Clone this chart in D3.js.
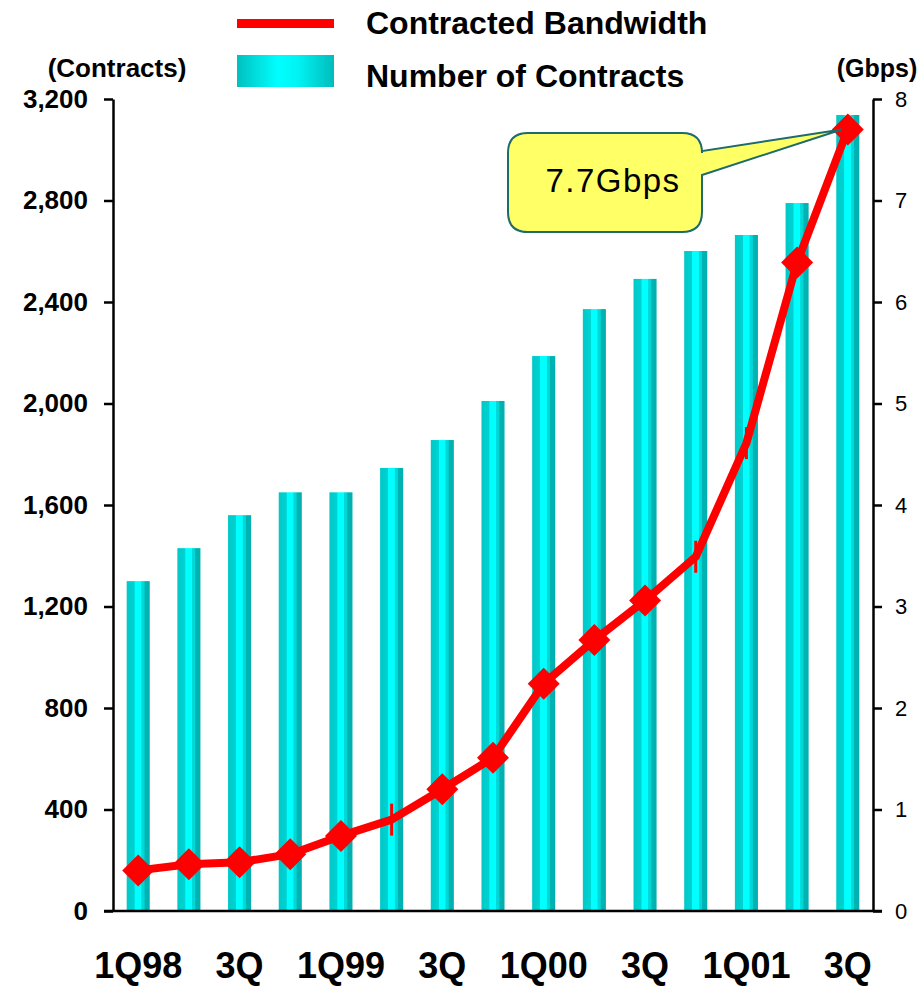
<!DOCTYPE html>
<html lang="en">
<head>
  <meta charset="UTF-8">
  <title>Contracts and Contracted Bandwidth</title>
  <style>
    body { margin: 0; background: #fff; }
    svg text { font-family: "Liberation Sans", Arial, sans-serif; fill: #000; }
    .axis path, .axis line { stroke: #000; stroke-width: 2.5; }
    .left-axis text { font-weight: bold; font-size: 26px; }
    .right-axis text { font-size: 22px; }
    .x-axis text { font-weight: bold; font-size: 36px; }
  </style>
</head>
<body>
  <svg id="chart" width="924" height="987"></svg>

  <script src="https://d3js.org/d3.v7.min.js"></script>
  <script>
    // quarters, 1Q98 .. 3Q01
    const quarters = ["1Q98", "2Q98", "3Q98", "4Q98", "1Q99", "2Q99", "3Q99", "4Q99",
                      "1Q00", "2Q00", "3Q00", "4Q00", "1Q01", "2Q01", "3Q01"];
    const quarterLabels = ["1Q98", "", "3Q", "", "1Q99", "", "3Q", "",
                           "1Q00", "", "3Q", "", "1Q01", "", "3Q"];
    // number of contracts (left axis)
    const contracts = [1300, 1430, 1560, 1650, 1650, 1746, 1856, 2010,
                       2187, 2372, 2491, 2601, 2664, 2790, 3137];
    // contracted bandwidth in Gbps (right axis)
    const bandwidth = [0.40, 0.46, 0.48, 0.56, 0.74, 0.90, 1.20, 1.51,
                       2.24, 2.67, 3.06, 3.49, 4.61, 6.39, 7.70];
    // points drawn with a diamond marker (others get a small bar)
    const diamondMarker = [true, true, true, true, true, false, true, true,
                           true, true, true, false, false, true, true];
    const leftTicks = [0, 400, 800, 1200, 1600, 2000, 2400, 2800, 3200];
    const rightTicks = [0, 1, 2, 3, 4, 5, 6, 7, 8];
    const calloutText = "7.7Gbps";

    const plotLeft = 113, plotRight = 873, plotTop = 99, plotBottom = 911;

    const svg = d3.select("#chart");

    const defs = svg.append("defs");
    const barGrad = defs.append("linearGradient").attr("id", "barGrad");
    [[0, "#00c8c8"], [0.33, "#00d2d2"], [0.36, "#00ffff"], [0.62, "#00ffff"],
     [0.65, "#00dada"], [0.76, "#00d6d6"], [0.79, "#00b4b4"], [1, "#00b0b0"]]
      .forEach(s => barGrad.append("stop").attr("offset", s[0]).attr("stop-color", s[1]));
    const legGrad = defs.append("linearGradient").attr("id", "legGrad");
    [[0, "#00c0c0"], [0.42, "#00ffff"], [0.62, "#00f4f4"], [1, "#00bcbc"]]
      .forEach(s => legGrad.append("stop").attr("offset", s[0]).attr("stop-color", s[1]));

    const x = d3.scaleBand()
      .domain(quarters)
      .range([plotLeft, plotRight])
      .paddingInner(0.545)
      .paddingOuter(0.27);

    const yLeft = d3.scaleLinear().domain([0, 3200]).range([plotBottom, plotTop]);
    const yRight = d3.scaleLinear().domain([0, 8]).range([plotBottom, plotTop]);

    // bars
    svg.append("g").selectAll("rect")
      .data(quarters)
      .enter()
      .append("rect")
      .attr("x", d => x(d))
      .attr("y", (d, i) => yLeft(contracts[i]))
      .attr("width", x.bandwidth())
      .attr("height", (d, i) => plotBottom - yLeft(contracts[i]))
      .attr("fill", "url(#barGrad)");

    // axes
    svg.append("g")
      .attr("class", "axis left-axis")
      .attr("transform", `translate(${plotLeft},0)`)
      .call(d3.axisLeft(yLeft).tickValues(leftTicks).tickFormat(d3.format(",")).tickSize(9).tickPadding(16).tickSizeOuter(0));

    svg.append("g")
      .attr("class", "axis right-axis")
      .attr("transform", `translate(${plotRight},0)`)
      .call(d3.axisRight(yRight).tickValues(rightTicks).tickSize(9).tickPadding(13).tickSizeOuter(0));

    svg.append("line")
      .attr("x1", plotLeft - 9).attr("x2", plotRight + 9)
      .attr("y1", plotBottom).attr("y2", plotBottom)
      .attr("stroke", "#000").attr("stroke-width", 2.5);

    const xAxis = svg.append("g")
      .attr("class", "axis x-axis")
      .attr("transform", `translate(0,${plotBottom})`)
      .call(d3.axisBottom(x).tickSize(0).tickPadding(41).tickFormat((d, i) => quarterLabels[i]));
    xAxis.select(".domain").remove();

    // bandwidth line
    const cx = d => x(d) + x.bandwidth() / 2;
    const line = d3.line()
      .x(d => cx(d))
      .y((d, i) => yRight(bandwidth[i]));

    svg.append("path")
      .datum(quarters)
      .attr("d", line)
      .attr("fill", "none")
      .attr("stroke", "#ff0000")
      .attr("stroke-width", 8)
      .attr("stroke-linejoin", "round");

    const markers = svg.append("g");
    markers.selectAll("path.diamond")
      .data(quarters.filter((d, i) => diamondMarker[i]))
      .enter()
      .append("path")
      .attr("class", "diamond")
      .attr("d", d => {
        const i = quarters.indexOf(d);
        const px = cx(d), py = yRight(bandwidth[i]), r = 16;
        return `M${px},${py - r}L${px + r},${py}L${px},${py + r}L${px - r},${py}Z`;
      })
      .attr("fill", "#ff0000");

    markers.selectAll("line.bar")
      .data(quarters.filter((d, i) => !diamondMarker[i]))
      .enter()
      .append("line")
      .attr("class", "bar")
      .attr("x1", d => cx(d)).attr("x2", d => cx(d))
      .attr("y1", d => yRight(bandwidth[quarters.indexOf(d)]) - 16)
      .attr("y2", d => yRight(bandwidth[quarters.indexOf(d)]) + 16)
      .attr("stroke", "#ff0000")
      .attr("stroke-width", 3);

    // callout for last value
    const last = quarters.length - 1;
    const tipX = cx(quarters[last]) - 6, tipY = yRight(bandwidth[last]);
    const bx0 = 508, bx1 = 702, by0 = 133, by1 = 232, r = 20;
    const callout = `M${bx0 + r},${by0} L${bx1 - r},${by0} Q${bx1},${by0} ${bx1},${by0 + r}
      L${bx1},${by0 + 18} L${tipX},${tipY} L${bx1},${by0 + 42}
      L${bx1},${by1 - r} Q${bx1},${by1} ${bx1 - r},${by1}
      L${bx0 + r},${by1} Q${bx0},${by1} ${bx0},${by1 - r}
      L${bx0},${by0 + r} Q${bx0},${by0} ${bx0 + r},${by0} Z`;
    svg.append("path")
      .attr("d", callout)
      .attr("fill", "#ffff66")
      .attr("stroke", "#1f6b6b")
      .attr("stroke-width", 2);
    svg.append("text")
      .attr("x", (bx0 + bx1) / 2 + 8)
      .attr("y", 192)
      .attr("text-anchor", "middle")
      .attr("font-size", 33)
      .attr("letter-spacing", 1.5)
      .text(calloutText);

    // axis titles
    svg.append("text").attr("x", 117).attr("y", 77)
      .attr("text-anchor", "middle").attr("font-weight", "bold").attr("font-size", 26)
      .text("(Contracts)");
    svg.append("text").attr("x", 877).attr("y", 77)
      .attr("text-anchor", "middle").attr("font-weight", "bold").attr("font-size", 25)
      .text("(Gbps)");

    // legend
    svg.append("rect").attr("x", 237).attr("y", 19).attr("width", 97).attr("height", 9)
      .attr("fill", "#ff0000");
    svg.append("rect").attr("x", 237).attr("y", 55).attr("width", 97).attr("height", 32)
      .attr("fill", "url(#legGrad)");
    svg.append("text").attr("x", 366).attr("y", 34)
      .attr("font-weight", "bold").attr("font-size", 32)
      .text("Contracted Bandwidth");
    svg.append("text").attr("x", 366).attr("y", 87)
      .attr("font-weight", "bold").attr("font-size", 32)
      .text("Number of Contracts");
  </script>
</body>
</html>
